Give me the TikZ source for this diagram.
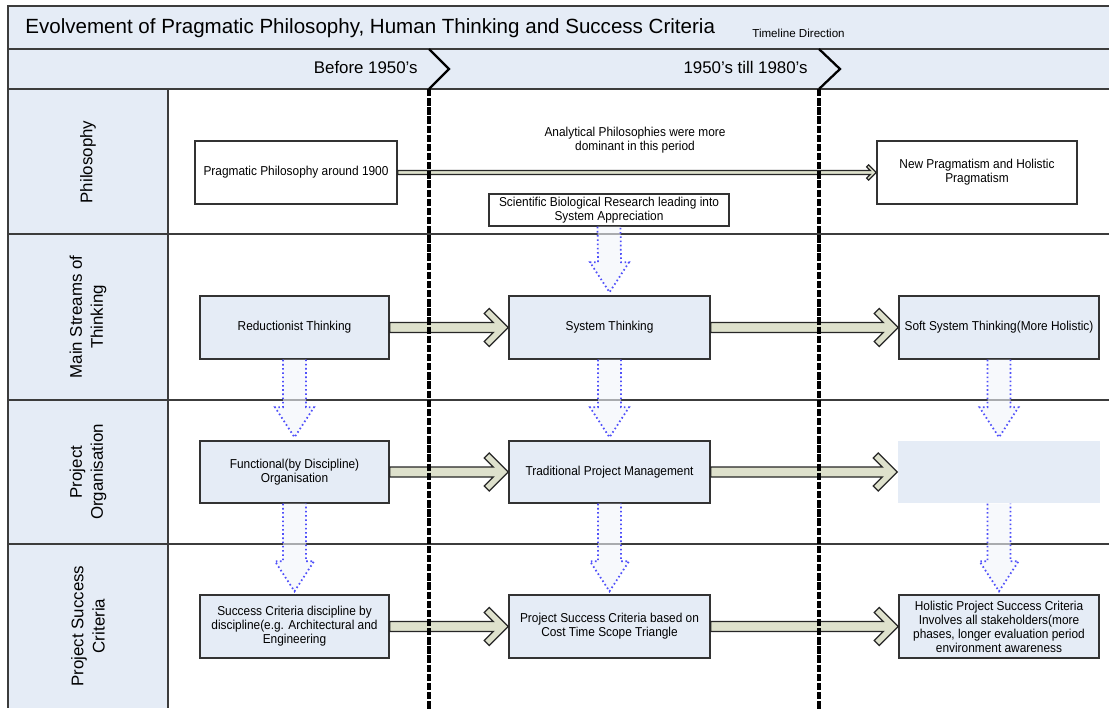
\documentclass[tikz,border=0pt]{standalone}
\usepackage{fontspec}
\setmainfont{Liberation Sans}
\newfontfamily\nf[FakeStretch=0.92]{Liberation Sans}
\usetikzlibrary{calc}
\definecolor{lane}{RGB}{229,236,246}
\definecolor{beige}{RGB}{222,225,204}
\definecolor{dotblue}{RGB}{80,80,250}
\definecolor{edge}{RGB}{60,60,60}
\newcommand\fatarr[3]{%
  \draw[beigearr] ($(#1.east)+(0,-5*#3)$) -- ($(#2.west)+(-15*#3,-5*#3)$) -- ($(#2.west)+(-24*#3,-14*#3)$) -- ($(#2.west)+(-19*#3,-19*#3)$) -- (#2.west) -- ($(#2.west)+(-19*#3,19*#3)$) -- ($(#2.west)+(-24*#3,14*#3)$) -- ($(#2.west)+(-15*#3,5*#3)$) -- ($(#1.east)+(0,5*#3)$) -- cycle;}
\newcommand\dotarr[2]{%
  \draw[dotarr] ($(#1.south)+(-11.5,0)$) -- ($(#2.north)+(-11.5,-33)$) -- ($(#2.north)+(-19.5,-33)$) -- ($(#2.north)+(0,-3)$) -- ($(#2.north)+(19.5,-33)$) -- ($(#2.north)+(11.5,-33)$) -- ($(#1.south)+(11.5,0)$);}
\begin{document}
\begin{tikzpicture}[x=0.02cm,y=-0.02cm,
  grid/.style={draw=edge,line width=0.9pt},
  boxw/.style={draw=black!80,line width=0.8pt,fill=white,font=\nf\fontsize{7.35}{8}\selectfont,align=center,inner sep=0pt},
  boxb/.style={boxw,fill=lane},
  sz/.style 2 args={minimum width=#1*0.02cm,minimum height=#2*0.02cm},
  lanelabel/.style={rotate=90,font=\fontsize{9.6}{12}\selectfont,align=center},
  hdr/.style={font=\fontsize{9.6}{11}\selectfont,inner sep=0pt},
  beigearr/.style={draw=black!85,line width=0.7pt,fill=beige,line join=miter},
  dotarr/.style={draw=dotblue,line width=1pt,dash pattern=on 0.9pt off 1.5pt,fill=lane!50,fill opacity=0.6},
  timeline/.style={line width=2.1pt,dash pattern=on 4.2pt off 1pt},
  chev/.style={line width=1.3pt,line join=miter}]
\useasboundingbox (0,0) rectangle (1109,708);
\clip (0,0) rectangle (1109,708);
\fill[white] (0,0) rectangle (1109,708);
% bars and lanes
\fill[lane] (8,6) rectangle (1109,89);
\fill[lane] (8,89) rectangle (168,708);
\draw[grid,line width=1.2pt] (1109,6) -- (8,6) -- (8,708);
\draw[grid,line width=1.2pt] (8,49) -- (1109,49);
\draw[grid,line width=1.2pt] (8,89) -- (1109,89);
\draw[grid] (168,89) -- (168,708);
\foreach \yy in {234,400,544} \draw[grid] (8,\yy) -- (1109,\yy);
% header texts
\node[anchor=base west,inner sep=0pt,font=\fontsize{11.7}{14}\selectfont] (title) at (25,33.5) {Evolvement of Pragmatic Philosophy, Human Thinking and Success Criteria};
\node[anchor=base west,inner sep=0pt,font=\fontsize{6.6}{8}\selectfont] (tldir) at (752,37) {Timeline Direction};
\node[hdr,anchor=base east] (p1) at (418,73) {Before 1950's};
\node[hdr,anchor=base east] (p2) at (808,73) {1950's till 1980's};
% lane labels
\node[lanelabel] (l1) at (88,162) {Philosophy};
\node[lanelabel] (l2) at (88,317) {Main Streams of\\Thinking};
\node[lanelabel] (l3) at (88,472) {Project\\Organisation};
\node[lanelabel] (l4) at (88,626) {Project Success\\Criteria};
% boxes
\node[boxw,sz={202}{63}] (prag) at (296,172.5) {Pragmatic Philosophy around 1900};
\node[boxw,sz={200}{63}] (newprag) at (977,172.5) {New Pragmatism and Holistic\\Pragmatism};
\node[boxw,sz={240}{32}] (sci) at (609,210) {Scientific Biological Research leading into\\System Appreciation};
\node[font=\nf\fontsize{7.35}{8}\selectfont,align=center,inner sep=0pt] (anal) at (635,140) {Analytical Philosophies were more\\dominant in this period};
\node[boxb,sz={189}{63}] (red) at (294.5,327.5) {Reductionist Thinking};
\node[boxb,sz={201}{63}] (sys) at (609.5,327.5) {System Thinking};
\node[boxb,sz={200}{63}] (soft) at (999,327.5) {Soft System Thinking(More Holistic)};
\node[boxb,sz={189}{62}] (func) at (294.5,472) {Functional(by Discipline)\\Organisation};
\node[boxb,sz={201}{62}] (trad) at (609.5,472) {Traditional Project Management};
\node[boxb,draw=none,sz={202}{62}] (empty) at (999,472) {};
\node[boxb,sz={189}{63}] (sc1) at (294.5,626.5) {Success Criteria discipline by\\discipline(e.g. Architectural and\\Engineering};
\node[boxb,sz={201}{63}] (sc2) at (609.5,626.5) {Project Success Criteria based on\\Cost Time Scope Triangle};
\node[boxb,sz={200}{63}] (sc3) at (999,626.5) {Holistic Project Success Criteria\\Involves all stakeholders(more\\phases, longer evaluation period\\environment awareness};
% horizontal arrows
\fatarr{prag}{newprag}{0.4}
\fatarr{red}{sys}{1}
\fatarr{sys}{soft}{1}
\fatarr{func}{trad}{1}
\fatarr{trad}{empty}{1}
\fatarr{sc1}{sc2}{1}
\fatarr{sc2}{sc3}{1}
% dotted arrows
\dotarr{sci}{sys}
\dotarr{red}{func}
\dotarr{func}{sc1}
\dotarr{sys}{trad}
\dotarr{trad}{sc2}
\dotarr{soft}{empty}
\dotarr{empty}{sc3}
% timeline
\coordinate (t1top) at (429,49); \coordinate (t1tip) at (449,69); \coordinate (t1bot) at (429,89); \coordinate (t1end) at (429,710);
\coordinate (t2top) at (819,49); \coordinate (t2tip) at (840,69); \coordinate (t2bot) at (819,89); \coordinate (t2end) at (819,710);
\draw[chev] (t1top) -- (t1tip) -- (t1bot);
\draw[chev] (t2top) -- (t2tip) -- (t2bot);
\draw[timeline] (t1bot) -- (t1end);
\draw[timeline] (t2bot) -- (t2end);
\end{tikzpicture}
\end{document}
